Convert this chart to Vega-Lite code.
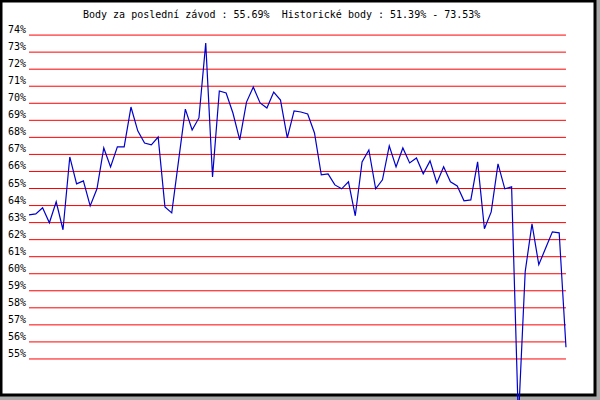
{
  "$schema": "https://vega.github.io/schema/vega-lite/v6.json",
  "width": 594,
  "height": 394,
  "autosize": {"type": "none"},
  "padding": {"left": 1, "top": 1, "right": 5, "bottom": 5},
  "background": "#a9a9a9",
  "config": {
    "view": {"stroke": "#000000", "strokeWidth": 3, "fill": "#ffffff"},
    "font": "DejaVu Sans Mono"
  },
  "title": {
    "text": "Body za poslední závod : 55.69% \u00a0Historické body : 51.39% - 73.53%",
    "anchor": "start",
    "frame": "group",
    "dx": 82,
    "dy": 10,
    "offset": -17,
    "baseline": "alphabetic",
    "font": "DejaVu Sans Mono",
    "fontSize": 10,
    "fontWeight": "normal",
    "color": "#000000"
  },
  "datasets": {
    "levels": [
      {"level": 55, "label": "55%"}, {"level": 56, "label": "56%"}, {"level": 57, "label": "57%"},
      {"level": 58, "label": "58%"}, {"level": 59, "label": "59%"}, {"level": 60, "label": "60%"},
      {"level": 61, "label": "61%"}, {"level": 62, "label": "62%"}, {"level": 63, "label": "63%"},
      {"level": 64, "label": "64%"}, {"level": 65, "label": "65%"}, {"level": 66, "label": "66%"},
      {"level": 67, "label": "67%"}, {"level": 68, "label": "68%"}, {"level": 69, "label": "69%"},
      {"level": 70, "label": "70%"}, {"level": 71, "label": "71%"}, {"level": 72, "label": "72%"},
      {"level": 73, "label": "73%"}, {"level": 74, "label": "74%"}
    ],
    "points": [
      {"i": 0, "v": 63.45}, {"i": 1, "v": 63.51}, {"i": 2, "v": 63.87}, {"i": 3, "v": 62.99},
      {"i": 4, "v": 64.22}, {"i": 5, "v": 62.58}, {"i": 6, "v": 66.85}, {"i": 7, "v": 65.27},
      {"i": 8, "v": 65.45}, {"i": 9, "v": 63.98}, {"i": 10, "v": 64.98}, {"i": 11, "v": 67.38},
      {"i": 12, "v": 66.27}, {"i": 13, "v": 67.44}, {"i": 14, "v": 67.44}, {"i": 15, "v": 69.78},
      {"i": 16, "v": 68.38}, {"i": 17, "v": 67.67}, {"i": 18, "v": 67.56}, {"i": 19, "v": 68.02},
      {"i": 20, "v": 63.92}, {"i": 21, "v": 63.57}, {"i": 22, "v": 66.62}, {"i": 23, "v": 69.66},
      {"i": 24, "v": 68.43}, {"i": 25, "v": 69.14}, {"i": 26, "v": 73.53}, {"i": 27, "v": 65.68},
      {"i": 28, "v": 70.72}, {"i": 29, "v": 70.6}, {"i": 30, "v": 69.43}, {"i": 31, "v": 67.85},
      {"i": 32, "v": 70.07}, {"i": 33, "v": 70.95}, {"i": 34, "v": 70.02}, {"i": 35, "v": 69.72},
      {"i": 36, "v": 70.66}, {"i": 37, "v": 70.19}, {"i": 38, "v": 67.97}, {"i": 39, "v": 69.55},
      {"i": 40, "v": 69.49}, {"i": 41, "v": 69.37}, {"i": 42, "v": 68.26}, {"i": 43, "v": 65.8},
      {"i": 44, "v": 65.86}, {"i": 45, "v": 65.21}, {"i": 46, "v": 64.98}, {"i": 47, "v": 65.39},
      {"i": 48, "v": 63.4}, {"i": 49, "v": 66.56}, {"i": 50, "v": 67.26}, {"i": 51, "v": 64.98},
      {"i": 52, "v": 65.51}, {"i": 53, "v": 67.5}, {"i": 54, "v": 66.27}, {"i": 55, "v": 67.38},
      {"i": 56, "v": 66.5}, {"i": 57, "v": 66.79}, {"i": 58, "v": 65.86}, {"i": 59, "v": 66.62},
      {"i": 60, "v": 65.33}, {"i": 61, "v": 66.27}, {"i": 62, "v": 65.39}, {"i": 63, "v": 65.15},
      {"i": 64, "v": 64.28}, {"i": 65, "v": 64.33}, {"i": 66, "v": 66.56}, {"i": 67, "v": 62.64},
      {"i": 68, "v": 63.63}, {"i": 69, "v": 66.44}, {"i": 70, "v": 64.98}, {"i": 71, "v": 65.1},
      {"i": 72, "v": 51.39}, {"i": 73, "v": 60.12}, {"i": 74, "v": 62.93}, {"i": 75, "v": 60.53},
      {"i": 76, "v": 61.49}, {"i": 77, "v": 62.46}, {"i": 78, "v": 62.4}, {"i": 79, "v": 55.69}
    ]
  },
  "layer": [
    {
      "data": {"name": "levels"},
      "mark": {"type": "rule", "color": "#ff0000", "strokeWidth": 1},
      "encoding": {
        "y": {"field": "level", "type": "quantitative", "scale": {"domain": [52.886, 76.0], "nice": false, "zero": false}, "axis": null},
        "x": {"datum": 0, "type": "quantitative", "scale": {"domain": [-4.12, 83.27], "nice": false, "zero": false}, "axis": null},
        "x2": {"datum": 79}
      }
    },
    {
      "data": {"name": "levels"},
      "mark": {"type": "text", "align": "right", "baseline": "alphabetic", "dx": -3, "dy": -2, "fontSize": 10, "font": "DejaVu Sans Mono", "color": "#000000"},
      "encoding": {
        "y": {"field": "level", "type": "quantitative", "scale": {"domain": [52.886, 76.0], "nice": false, "zero": false}, "axis": null},
        "x": {"datum": 0, "type": "quantitative", "scale": {"domain": [-4.12, 83.27], "nice": false, "zero": false}, "axis": null},
        "text": {"field": "label"}
      }
    },
    {
      "data": {"name": "points"},
      "mark": {"type": "line", "color": "#0000cc", "strokeWidth": 1.2, "clip": false},
      "encoding": {
        "x": {"field": "i", "type": "quantitative", "scale": {"domain": [-4.12, 83.27], "nice": false, "zero": false}, "axis": null},
        "y": {"field": "v", "type": "quantitative", "scale": {"domain": [52.886, 76.0], "nice": false, "zero": false}, "axis": null}
      }
    }
  ]
}
